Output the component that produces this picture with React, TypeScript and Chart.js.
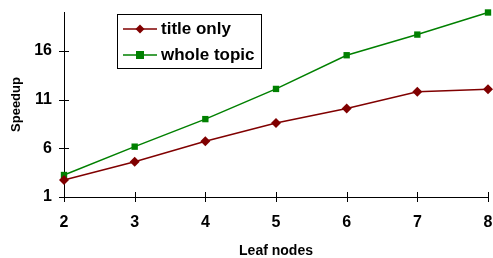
import React, { useEffect, useRef } from "react";
import { Chart, registerables } from "chart.js";

Chart.register(...registerables);

const leafNodes = [2, 3, 4, 5, 6, 7, 8];
const titleOnly = [2.75, 4.63, 6.72, 8.6, 10.08, 11.8, 12.07];
const wholeTopic = [3.26, 6.17, 9.0, 12.1, 15.56, 17.68, 19.95];
const yTickValues = [1, 6, 11, 16];
const seriesNames = ["title only", "whole topic"];
const seriesColors = ["#800000", "#008000"];
const xTitle = "Leaf nodes";
const yTitle = "Speedup";

const FONT = "'Liberation Sans', Arial, sans-serif";

export default function App() {
  const ref = useRef<HTMLCanvasElement | null>(null);

  useEffect(() => {
    if (!ref.current) return;

    const tickPlugin = {
      id: "crossTicks",
      afterDraw(chart: any) {
        const ctx = chart.ctx;
        const xs = chart.scales.x;
        const ys = chart.scales.y;
        const area = chart.chartArea;
        ctx.save();
        ctx.strokeStyle = "#000";
        ctx.lineWidth = 1;
        ctx.beginPath();
        leafNodes.forEach((v) => {
          const px = Math.round(xs.getPixelForValue(v)) + 0.5;
          ctx.moveTo(px, area.bottom - 5);
          ctx.lineTo(px, area.bottom + 5);
        });
        yTickValues.forEach((v) => {
          const py = Math.round(ys.getPixelForValue(v)) + 0.5;
          ctx.moveTo(area.left - 5, py);
          ctx.lineTo(area.left + 5, py);
        });
        ctx.stroke();

        // legend
        const bx = 117.5, by = 14.5, bw = 144, bh = 54;
        ctx.fillStyle = "#fff";
        ctx.fillRect(bx, by, bw, bh);
        ctx.strokeStyle = "#000";
        ctx.lineWidth = 1;
        ctx.strokeRect(bx, by, bw, bh);
        const rows = [29, 55];
        seriesNames.forEach((name, i) => {
          const y = rows[i];
          ctx.strokeStyle = seriesColors[i];
          ctx.lineWidth = 1.5;
          ctx.beginPath();
          ctx.moveTo(123, y);
          ctx.lineTo(157, y);
          ctx.stroke();
          ctx.fillStyle = seriesColors[i];
          if (i === 0) {
            ctx.beginPath();
            ctx.moveTo(140, y - 4.5);
            ctx.lineTo(144.5, y);
            ctx.lineTo(140, y + 4.5);
            ctx.lineTo(135.5, y);
            ctx.closePath();
            ctx.fill();
          } else {
            ctx.fillRect(136, y - 4, 8, 8);
          }
          ctx.fillStyle = "#000";
          ctx.font = `bold 17px ${FONT}`;
          ctx.textBaseline = "middle";
          ctx.textAlign = "left";
          ctx.fillText(name, 161, y);
        });
        ctx.restore();
      },
    };

    const zeroPad = (s: any) => {
      s.paddingLeft = 0;
      s.paddingRight = 0;
      s.paddingTop = 0;
      s.paddingBottom = 0;
    };

    const chart = new Chart(ref.current, {
      type: "line",
      data: {
        datasets: [
          {
            label: seriesNames[0],
            data: leafNodes.map((x, i) => ({ x, y: titleOnly[i] })),
            borderColor: seriesColors[0],
            backgroundColor: seriesColors[0],
            borderWidth: 1.5,
            pointStyle: "rectRot",
            pointRadius: 5,
            pointBorderWidth: 0,
            clip: false,
          } as any,
          {
            label: seriesNames[1],
            data: leafNodes.map((x, i) => ({ x, y: wholeTopic[i] })),
            borderColor: seriesColors[1],
            backgroundColor: seriesColors[1],
            borderWidth: 1.5,
            pointStyle: "rect",
            pointRadius: 4.5,
            pointBorderWidth: 0,
            clip: false,
          } as any,
        ],
      },
      options: {
        animation: false,
        responsive: false,
        maintainAspectRatio: false,
        layout: { padding: { top: 12, right: 5, left: 0, bottom: 0 } },
        plugins: { legend: { display: false }, tooltip: { enabled: false } },
        scales: {
          x: {
            type: "linear",
            min: 2,
            max: 8,
            afterBuildTicks: (s: any) => {
              s.ticks = leafNodes.map((v) => ({ value: v }));
            },
            afterFit: (s: any) => {
              s.height = 61;
              zeroPad(s);
            },
            grid: { display: false, drawTicks: false },
            border: { display: true, color: "#000", width: 1 },
            ticks: {
              color: "#000",
              padding: 16,
              font: { family: FONT, size: 16, weight: "bold" },
              maxRotation: 0,
            },
            title: {
              display: true,
              text: xTitle,
              color: "#000",
              font: { family: FONT, size: 14, weight: "bold" },
              padding: { top: 0, bottom: -2 },
            },
          },
          y: {
            type: "linear",
            min: 1,
            max: 20,
            afterBuildTicks: (s: any) => {
              s.ticks = yTickValues.map((v) => ({ value: v }));
            },
            afterFit: (s: any) => {
              s.width = 64;
              zeroPad(s);
            },
            grid: { display: false, drawTicks: false },
            border: { display: true, color: "#000", width: 1 },
            ticks: {
              color: "#000",
              padding: 12,
              font: { family: FONT, size: 16, weight: "bold" },
            },
            title: {
              display: true,
              text: yTitle,
              color: "#000",
              font: { family: FONT, size: 13, weight: "bold" },
              padding: { top: 9, bottom: 0 },
            },
          },
        },
      } as any,
      plugins: [tickPlugin],
    });
    return () => chart.destroy();
  }, []);

  return (
    <div style={{ position: "absolute", left: 0, top: 0, width: 493, height: 258, background: "#fff" }}>
      <canvas ref={ref} width={493} height={258} />
    </div>
  );
}
